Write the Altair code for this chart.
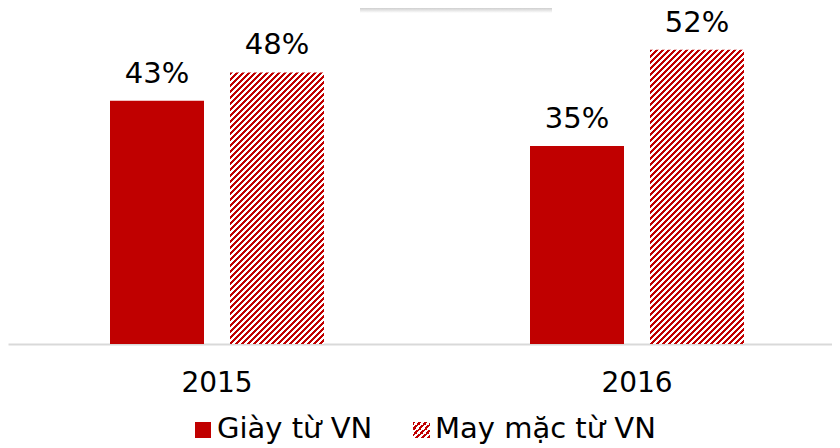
import math
import altair as alt
import pandas as pd

# ---- data ----
years = ["2015", "2016"]
series = ["Giày từ VN", "May mặc từ VN"]
giay_values = [43, 35]        # %
may_mac_values = [48, 52]     # %

RED = "#C00000"
FONT = "DejaVu Sans"

rows = []
for i, yr in enumerate(years):
    rows.append({"year": yr, "series": series[0], "value": giay_values[i]})
    rows.append({"year": yr, "series": series[1], "value": may_mac_values[i]})
df = pd.DataFrame(rows)
legend_df = pd.DataFrame({"series": series})

# ---- layout / style constants ----
W, H = 824, 336
Y_MAX = 59.4
BAR_W = 94
STEP = 420
LEG_Y = 430   # legend baseline (px in plot coordinates)


def hatch(w, h, period=6.0, color=RED, bg="#FFFFFF"):
    """Diagonal '/' stripes as a hard-stop linear gradient (bbox units)."""
    n = math.ceil((w + h) / period)
    L = n * period                      # screen length (x+y) mapped to t=1
    a = L * w / (w * w + h * h)
    stops = []
    for i in range(n):
        stops += [
            alt.GradientStop(offset=i / n, color=color),
            alt.GradientStop(offset=(i + 0.5) / n, color=color),
            alt.GradientStop(offset=(i + 0.5) / n, color=bg),
            alt.GradientStop(offset=(i + 1) / n, color=bg),
        ]
    return alt.LinearGradient(gradient="linear", stops=stops,
                              x1=0, y1=0, x2=a, y2=a * h / w)


x_pi = 2 - W / STEP
band = STEP * (1 - x_pi)
xo_pi = 1 - BAR_W / 120
xo_po = (band / 120 - 2 + xo_pi) / 2
xo_align = 102 / (band - 120 * (2 - xo_pi))

x_enc = alt.X("year:N", sort=years,
              scale=alt.Scale(paddingInner=x_pi, paddingOuter=0),
              axis=alt.Axis(title=None, ticks=False, domainColor="#D9D9D9",
                            domainWidth=2, labelFontSize=28, labelFont=FONT,
                            labelColor="#000000", labelAngle=0, labelOffset=7,
                            labelBaseline="alphabetic", labelPadding=47))
xo_enc = alt.XOffset("series:N", sort=series,
                     scale=alt.Scale(domain=series, paddingInner=xo_pi,
                                     paddingOuter=xo_po, align=xo_align))
y_enc = alt.Y("value:Q", scale=alt.Scale(domain=[0, Y_MAX], nice=False),
              axis=None)

base = alt.Chart(df).encode(x=x_enc, xOffset=xo_enc, y=y_enc)

solid = base.transform_filter(alt.datum.series == series[0]).mark_bar(fill=RED)

hatched_layers = []
for i, yr in enumerate(years):
    bar_h = H * may_mac_values[i] / Y_MAX
    hatched_layers.append(
        base.transform_filter(
            (alt.datum.series == series[1]) & (alt.datum.year == yr)
        ).mark_bar(fill=hatch(BAR_W, bar_h))
    )

labels = base.transform_calculate(label="datum.value + '%'").mark_text(
    font=FONT, fontSize=29, baseline="alphabetic", dy=-18, color="#000000"
).encode(text="label:N")

# ---- manual legend (hatched symbol cannot come from a scale) ----
leg = alt.Chart(legend_df)
sq1 = leg.transform_filter(alt.datum.series == series[0]).mark_rect(fill=RED).encode(
    x=alt.value(187), x2=alt.value(203), y=alt.value(LEG_Y - 16), y2=alt.value(LEG_Y))
sq2 = leg.transform_filter(alt.datum.series == series[1]).mark_rect(
    fill=hatch(17, 16, period=6.0)).encode(
    x=alt.value(405), x2=alt.value(422), y=alt.value(LEG_Y - 16), y2=alt.value(LEG_Y))
t1 = leg.transform_filter(alt.datum.series == series[0]).mark_text(
    font=FONT, fontSize=29, align="left", baseline="alphabetic", color="#000000"
).encode(x=alt.value(209), y=alt.value(LEG_Y), text="series:N")
t2 = leg.transform_filter(alt.datum.series == series[1]).mark_text(
    font=FONT, fontSize=29, align="left", baseline="alphabetic", color="#000000"
).encode(x=alt.value(427), y=alt.value(LEG_Y), text="series:N")

# shadow of the (cut-off) title box at the very top
shadow = leg.transform_filter(alt.datum.series == series[0]).mark_rect(
    fill=alt.LinearGradient(gradient="linear", x1=0, y1=0, x2=0, y2=1,
                            stops=[alt.GradientStop(offset=0, color="#CFCFCF"),
                                   alt.GradientStop(offset=1, color="#FFFFFF")])
).encode(x=alt.value(352), x2=alt.value(544), y=alt.value(0), y2=alt.value(5))

chart = alt.layer(solid, *hatched_layers, labels, sq1, sq2, t1, t2, shadow).properties(
    width=W, height=H,
    autosize=alt.AutoSizeParams(type="none"),
    padding={"left": 0, "top": 0, "right": 0, "bottom": 104},
).configure_view(stroke=None)

chart.save("out.html", embed_options={"renderer": "svg", "actions": False})
